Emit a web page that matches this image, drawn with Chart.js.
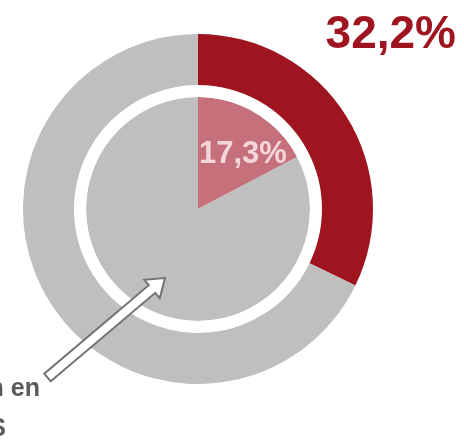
<!DOCTYPE html>
<html>
<head>
<meta charset="utf-8">
<script src="https://cdn.jsdelivr.net/npm/chart.js@4"></script>
<style>
  html, body { margin: 0; padding: 0; background: #fff; }
  #wrap { width: 464px; height: 440px; position: relative; }
</style>
</head>
<body>
<div id="wrap"><canvas id="chartDonut"></canvas></div>
<script>
// outer ring and inner pie, share in %
const outerLabels = ['Part', 'Reste'];
const outerValues = [32.2, 67.8];
const innerLabels = ['Part', 'Reste'];
const innerValues = [17.3, 82.7];

const fmt = v => v.toFixed(1).replace('.', ',') + '%';

// labels + the hollow arrow annotation
const overlay = {
    id: 'overlay',
    afterDraw(chart) {
        const ctx = chart.ctx;
        const innerArc = chart.getDatasetMeta(2).data[0];
        ctx.save();
        ctx.font = 'bold 46px "Liberation Sans", Arial, sans-serif';
        ctx.fillStyle = '#9E1520';
        ctx.textAlign = 'right';
        ctx.textBaseline = 'alphabetic';
        ctx.fillText(fmt(outerValues[0]), 456, 48);

        ctx.font = 'bold 31px "Liberation Sans", Arial, sans-serif';
        ctx.fillStyle = '#F3D6D9';
        ctx.textAlign = 'left';
        ctx.fillText(fmt(innerValues[0]), innerArc.x + 1, innerArc.y - 46);

        // hollow arrow
        const tail = [47.5, 377.5], tip = [165, 278];
        const dx = tip[0] - tail[0], dy = tip[1] - tail[1];
        const len = Math.hypot(dx, dy);
        const ux = dx / len, uy = dy / len;
        const nx = -uy, ny = ux;
        const sw = 5, hw = 12, hl = 17;
        const bx = tip[0] - ux * hl, by = tip[1] - uy * hl;
        const pts = [
            [tail[0] + nx * sw, tail[1] + ny * sw],
            [bx + nx * sw, by + ny * sw],
            [bx + nx * hw, by + ny * hw],
            tip,
            [bx - nx * hw, by - ny * hw],
            [bx - nx * sw, by - ny * sw],
            [tail[0] - nx * sw, tail[1] - ny * sw]
        ];
        ctx.beginPath();
        pts.forEach((p, i) => i ? ctx.lineTo(p[0], p[1]) : ctx.moveTo(p[0], p[1]));
        ctx.closePath();
        ctx.fillStyle = '#ffffff';
        ctx.fill();
        ctx.strokeStyle = '#737373';
        ctx.lineWidth = 2;
        ctx.stroke();

        ctx.font = 'bold 25px "Liberation Sans", Arial, sans-serif';
        ctx.fillStyle = '#5A5A5A';
        ctx.textAlign = 'right';
        ctx.fillText('n en', 40, 396);
        ctx.fillText('S', 6, 436);
        ctx.restore();
    }
};

new Chart(document.getElementById('chartDonut'), {
    type: 'doughnut',
    data: {
        labels: outerLabels,
        datasets: [{
            label: 'ext',
            data: outerValues,
            backgroundColor: ['#9E1520', '#BFBFBF'],
            weight: 51
        }, {
            label: 'gap',
            data: [100],
            backgroundColor: ['#ffffff'],
            weight: 12
        }, {
            label: 'int',
            data: innerValues,
            backgroundColor: ['#C5707A', '#BFBFBF'],
            weight: 112
        }]
    },
    options: {
        responsive: true,
        maintainAspectRatio: false,
        animation: false,
        cutout: 0,
        layout: { padding: { left: 23, right: 91, top: 34, bottom: 56 } },
        plugins: {
            legend: { display: false },
            tooltip: { enabled: false }
        },
        elements: { arc: { borderWidth: 0 } }
    },
    plugins: [overlay]
});
</script>
</body>
</html>
